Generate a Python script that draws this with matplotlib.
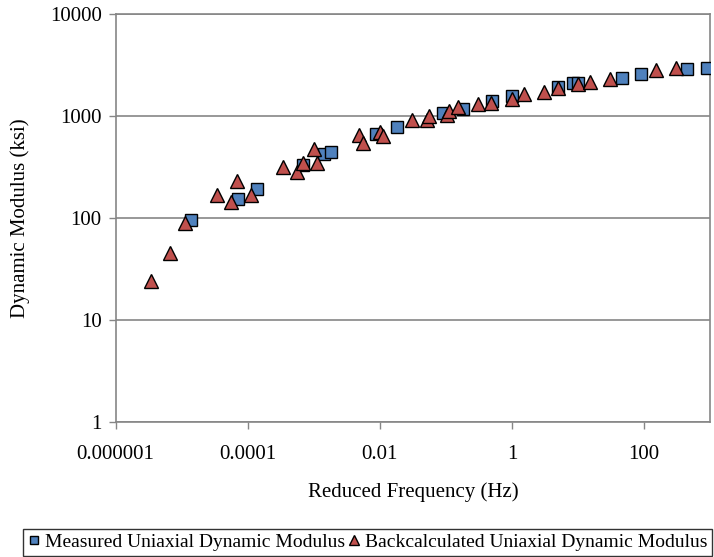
import matplotlib
matplotlib.use("Agg")
import matplotlib.pyplot as plt
from matplotlib.ticker import FixedLocator, FixedFormatter, NullLocator

plt.rcParams["font.family"] = ["Liberation Serif", "DejaVu Serif"]

# Measured uniaxial dynamic modulus (reduced frequency in Hz, modulus in ksi)
measured_freq = [1.36e-5, 7.0e-5, 1.38e-4, 6.9e-4, 1.42e-3, 1.85e-3, 8.9e-3, 0.0179,
                 0.091, 0.183, 0.504, 1.0, 5.03, 8.5, 10.1, 45.9, 89, 444, 891]
measured_mod = [95, 152, 192, 330, 421, 440, 666, 774,
                1077, 1164, 1413, 1582, 1940, 2094, 2122, 2376, 2566, 2872, 2979]

# Backcalculated uniaxial dynamic modulus
backcalc_freq = [3.4e-6, 6.7e-6, 1.11e-5, 3.4e-5, 5.5e-5, 6.9e-5, 1.11e-4, 3.4e-4,
                 5.6e-4, 6.9e-4, 1.0e-3, 1.1e-3, 4.85e-3, 5.6e-3, 0.010, 0.0112,
                 0.0308, 0.051, 0.0558, 0.1026, 0.111, 0.153, 0.305, 0.475,
                 1.01, 1.54, 3.05, 5.03, 10.1, 15.2, 30.5, 152, 305]
backcalc_mod = [24, 45, 88.5, 168, 144, 230, 168, 318,
                284, 348, 471, 343, 651, 547, 701, 641,
                914, 914, 1000, 1023, 1127, 1217, 1303, 1351,
                1468, 1633, 1731, 1896, 2061, 2172, 2291, 2827, 2979]

x_ticks = [1e-6, 1e-4, 1e-2, 1, 100]
x_tick_labels = ["0.000001", "0.0001", "0.01", "1", "100"]
y_ticks = [1, 10, 100, 1000, 10000]
y_tick_labels = ["1", "10", "100", "1000", "10000"]

grey = "#868686"

fig = plt.figure(figsize=(7.14, 5.57), dpi=100)
ax = fig.add_axes([0.162, 0.2429, 0.8324, 0.732])

ax.set_xscale("log")
ax.set_yscale("log")
ax.set_xlim(1e-6, 1000)
ax.set_ylim(1, 10000)

ax.plot(measured_freq, measured_mod, linestyle="none", marker="s", markersize=8.6,
        markerfacecolor="#4F81BD", markeredgecolor="black", markeredgewidth=1.0,
        label="Measured Uniaxial Dynamic Modulus", zorder=3)
ax.plot(backcalc_freq, backcalc_mod, linestyle="none", marker="^", markersize=10,
        markerfacecolor="#C0504D", markeredgecolor="black", markeredgewidth=1.0,
        label="Backcalculated Uniaxial Dynamic Modulus", zorder=4)

ax.xaxis.set_major_locator(FixedLocator(x_ticks))
ax.xaxis.set_major_formatter(FixedFormatter(x_tick_labels))
ax.xaxis.set_minor_locator(NullLocator())
ax.yaxis.set_major_locator(FixedLocator(y_ticks))
ax.yaxis.set_major_formatter(FixedFormatter(y_tick_labels))
ax.yaxis.set_minor_locator(NullLocator())

ax.grid(True, axis="y", color=grey, linewidth=1.2)
ax.set_axisbelow(True)
for side in ["left", "bottom", "right", "top"]:
    ax.spines[side].set_color(grey)
    ax.spines[side].set_linewidth(1.2)

ax.tick_params(axis="both", direction="out", length=5, width=1.0, color=grey,
               labelsize=15, labelcolor="black")
ax.tick_params(axis="x", pad=12)
ax.tick_params(axis="y", pad=5)

ax.set_xlabel("Reduced Frequency (Hz)", fontsize=15, labelpad=13)
ax.set_ylabel("Dynamic Modulus (ksi)", fontsize=15, labelpad=14)

leg = fig.legend(loc="lower left", bbox_to_anchor=(22.5 / 714, 1 / 557, 689.5 / 714, 31 / 557),
                 mode="expand", ncol=2, fontsize=14, frameon=True, fancybox=False,
                 handlelength=0.7, handletextpad=0.2, columnspacing=0.0,
                 borderpad=0.25, borderaxespad=0.0, markerscale=0.7)
leg.get_frame().set_edgecolor("black")
leg.get_frame().set_linewidth(1.0)

fig.savefig("out.png", dpi=100)
